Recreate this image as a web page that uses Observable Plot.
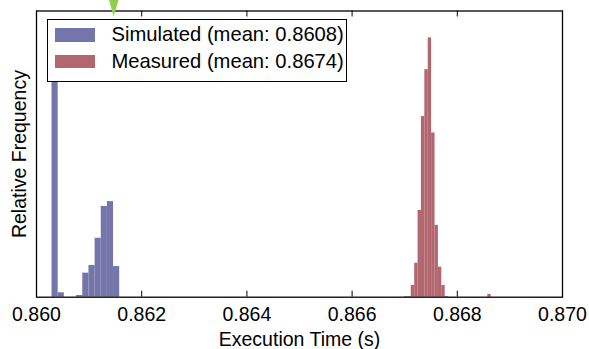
<!DOCTYPE html>
<html>
<head>
<meta charset="utf-8">
<script src="https://cdn.jsdelivr.net/npm/d3@7"></script>
<script src="https://cdn.jsdelivr.net/npm/@observablehq/plot@0.6"></script>
<style>
  html, body { margin: 0; padding: 0; background: #fff; }
  #chart { position: relative; width: 589px; height: 349px; font-family: "Liberation Sans", Arial, Helvetica, sans-serif; color: #000; }
  #chart svg.plot { position: absolute; left: 0; top: 0; }
  .legend { position: absolute; left: 46.5px; top: 19.3px; width: 300px; height: 62.5px; box-sizing: border-box; border: 1.3px solid #000; background: #fff; }
  .swatch { position: absolute; width: 40px; height: 13.5px; }
  .label { position: absolute; font-size: 20.2px; line-height: 20.2px; white-space: nowrap; }
  .pointer { position: absolute; left: 0; top: 0; }
</style>
</head>
<body>
<div id="chart"></div>
<script>
// Tick positions along the execution-time axis (seconds)
const xTicks = [0.860, 0.862, 0.864, 0.866, 0.868, 0.870];

// Simulated runs: histogram bin left edges and relative frequencies
const simulatedBinWidth = 0.000117;
const simulatedStart = [0.860295, 0.860412, 0.860529, 0.860646, 0.860763, 0.860880,
                        0.860997, 0.861114, 0.861231, 0.861348, 0.861465];
const simulatedFreq  = [0.930, 0.0154, 0, 0, 0.006, 0.084,
                        0.111, 0.206, 0.317, 0.334, 0.107];

// Measured runs: histogram bin left edges and relative frequencies
const measuredBinWidth = 0.0000645;
const measuredStart = [0.866996, 0.867061, 0.867125, 0.867190, 0.867254, 0.867318, 0.867383,
                       0.867447, 0.867512, 0.867576, 0.867641, 0.867705, 0.867770, 0.868580];
const measuredFreq  = [0.0024, 0.0024, 0.041, 0.119, 0.303, 0.631, 0.795,
                       0.906, 0.574, 0.251, 0.105, 0.041, 0.0024, 0.0094];

// Series names and colours
const seriesNames  = ["Simulated (mean: 0.8608)", "Measured (mean: 0.8674)"];
const seriesColors = ["#7475ab", "#b2666e"];

const simulated = simulatedStart.map((s, i) => ({x1: s, x2: s + simulatedBinWidth, freq: simulatedFreq[i]}));
const measured  = measuredStart.map((s, i) => ({x1: s, x2: s + measuredBinWidth, freq: measuredFreq[i]}));

const W = 589, H = 349;
const mTop = 10.5, mBottom = 52.3, mLeft = 36, mRight = 27;
const frameH = H - mTop - mBottom;
const tickLen = 6;
const font = "\"Liberation Sans\", Arial, Helvetica, sans-serif";

const plot = Plot.plot({
  width: W,
  height: H,
  marginTop: mTop,
  marginBottom: mBottom,
  marginLeft: mLeft,
  marginRight: mRight,
  style: {fontFamily: font, fontSize: "19.5px", color: "#000", background: "transparent", overflow: "visible"},
  x: {domain: [0.860, 0.870]},
  y: {domain: [0, 1], axis: null},
  marks: [
    Plot.rect(simulated, {x1: "x1", x2: "x2", y1: 0, y2: "freq", fill: seriesColors[0]}),
    Plot.rect(measured,  {x1: "x1", x2: "x2", y1: 0, y2: "freq", fill: seriesColors[1]}),
    // inward ticks on the bottom and top edges
    Plot.tickX(xTicks, {x: d => d, insetTop: frameH - tickLen, stroke: "#000", strokeWidth: 1}),
    Plot.tickX(xTicks, {x: d => d, insetBottom: frameH - tickLen, stroke: "#000", strokeWidth: 1}),
    Plot.frame({stroke: "#000", strokeWidth: 1.3}),
    Plot.axisX({
      anchor: "bottom",
      ticks: xTicks,
      tickSize: 0,
      tickPadding: 10.3,
      tickFormat: d3.format(".3f"),
      fontSize: "19.5px",
      label: "Execution Time (s)",
      labelAnchor: "center",
      labelArrow: "none",
      labelOffset: 49
    }),
    Plot.text(["Relative Frequency"], {
      text: d => d,
      frameAnchor: "left",
      textAnchor: "middle",
      rotate: -90,
      dx: -16.5,
      lineAnchor: "middle",
      fontSize: "19.5px",
      fill: "#000"
    })
  ]
});

const chart = document.getElementById("chart");
chart.appendChild(plot);

// legend box
const legend = document.createElement("div");
legend.className = "legend";
chart.appendChild(legend);
const rowTop = [28.2, 54.8];
const textTop = [24.4, 50.8];
seriesNames.forEach((name, i) => {
  const sw = document.createElement("div");
  sw.className = "swatch";
  sw.style.left = "55px";
  sw.style.top = rowTop[i] + "px";
  sw.style.background = seriesColors[i];
  chart.appendChild(sw);
  const lb = document.createElement("div");
  lb.className = "label";
  lb.style.left = "111.5px";
  lb.style.top = textTop[i] + "px";
  lb.textContent = name;
  chart.appendChild(lb);
});

// small green pointer at the top edge
const ns = "http://www.w3.org/2000/svg";
const ptr = document.createElementNS(ns, "svg");
ptr.setAttribute("class", "pointer");
ptr.setAttribute("width", W);
ptr.setAttribute("height", 20);
const poly = document.createElementNS(ns, "polygon");
poly.setAttribute("points", "109,0 118.5,0 113.7,16.5");
poly.setAttribute("fill", "#8fd14f");
ptr.appendChild(poly);
chart.appendChild(ptr);
</script>
</body>
</html>
